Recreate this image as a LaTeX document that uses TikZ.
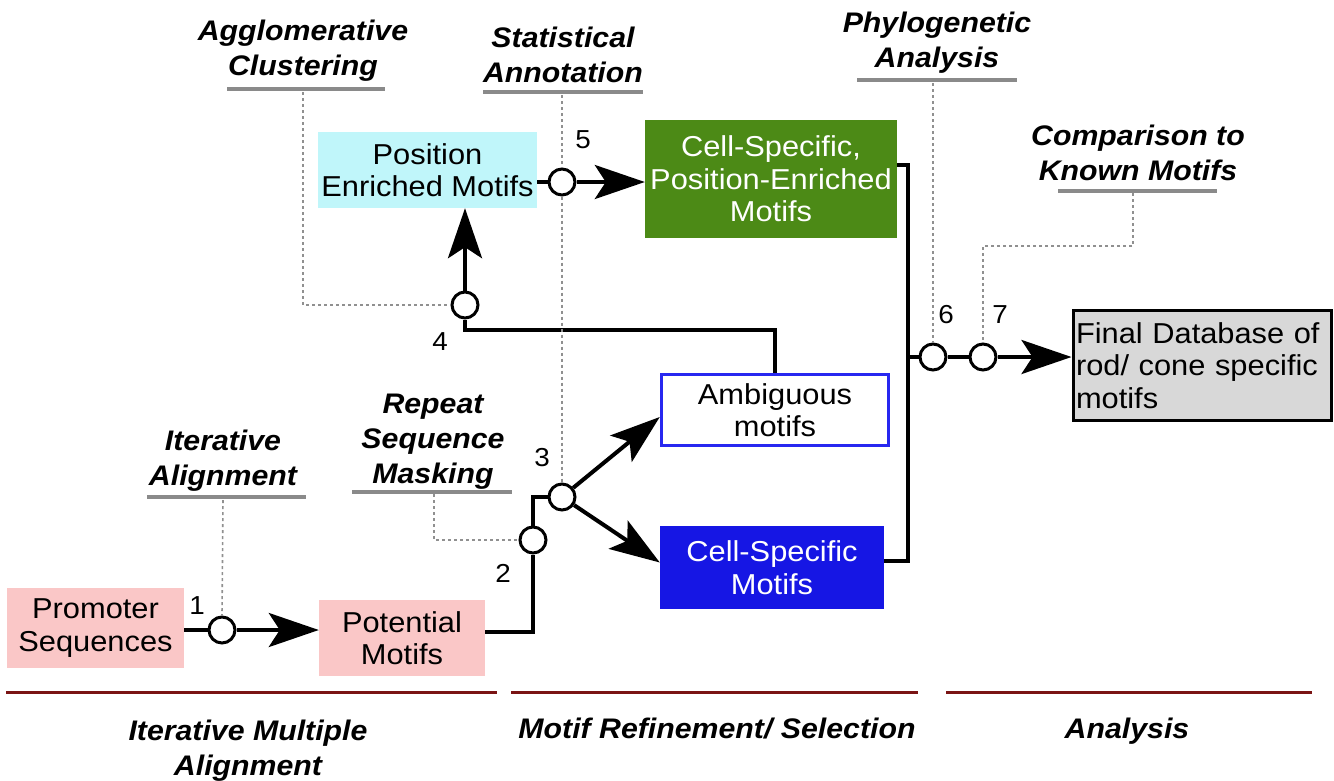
\documentclass[tikz,border=0pt]{standalone}
\usepackage{fontspec}
\setmainfont{Liberation Sans}[FakeStretch=1.07]
\usetikzlibrary{arrows.meta}
\definecolor{pinkbox}{HTML}{FAC7C7}
\definecolor{cyanbox}{HTML}{C0F6FA}
\definecolor{greenbox}{HTML}{4C8A16}
\definecolor{bluebox}{HTML}{1616E4}
\definecolor{blueline}{HTML}{2828F0}
\definecolor{greybox}{HTML}{D8D8D8}
\definecolor{maroonline}{HTML}{7A1414}
\definecolor{ulgrey}{HTML}{8A8A8A}
\definecolor{dotgrey}{HTML}{909090}
\begin{document}
\begin{tikzpicture}[x=1pt,y=-1pt,
 box/.style={inner sep=0pt, align=center, font=\fontsize{28.8}{32.5}\selectfont},
 circ/.style={circle, draw, line width=3pt, fill=white, minimum size=26pt, inner sep=0pt},
 conn/.style={line width=4pt},
 arr/.style={line width=4pt, -{Stealth[length=50pt,width=34pt,inset=11pt]}},
 dots/.style={draw=dotgrey, line width=1.6pt, dash pattern=on 3pt off 3pt},
 uline/.style={draw=ulgrey, line width=4pt},
 phase/.style={draw=maroonline, line width=3pt},
 lbl/.style={align=center, font=\bfseries\itshape\fontsize{28.3}{35}\selectfont},
 num/.style={font=\fontsize{26}{26}\selectfont}]
\useasboundingbox (0,0) rectangle (1334,780);

% boxes
\node[box, fill=pinkbox, minimum width=177pt, minimum height=80pt] (ps) at (95.5,628) {Promoter\\Sequences};
\node[box, fill=pinkbox, minimum width=166pt, minimum height=76pt] (pm) at (402,638) {Potential\\Motifs};
\node[box, fill=cyanbox, minimum width=219pt, minimum height=76pt] (pe) at (427.5,170) {Position\\Enriched Motifs};
\node[box, fill=greenbox, text=white, minimum width=252pt, minimum height=118pt] (cp) at (771,179) {Cell-Specific,\\Position-Enriched\\Motifs};
\node[box, draw=blueline, line width=3.5pt, fill=white, minimum width=227pt, minimum height=71pt] (am) at (775,410) {Ambiguous\\motifs};
\node[box, fill=bluebox, text=white, minimum width=224pt, minimum height=83pt] (cs) at (772,567.5) {Cell-Specific\\Motifs};
\node[box, draw, line width=3pt, fill=greybox, minimum width=258pt, minimum height=110pt, align=left, text width=252pt, inner xsep=3pt] (fd) at (1202,365.5) {Final Database of\\rod/ cone specific\\motifs};

% circles
\node[circ] (c1) at (222,630) {};
\node[circ] (c2) at (533,540) {};
\node[circ] (c3) at (562,497) {};
\node[circ] (c4) at (465,305) {};
\node[circ] (c5) at (562,182) {};
\node[circ] (c6) at (933,357) {};
\node[circ] (c7) at (983,357) {};

% helper coordinates
\coordinate (k2) at (533,632);
\coordinate (k4) at (465,330);
\coordinate (kt) at (908,165);
\coordinate (kb) at (908,561);
\coordinate (km) at (908,357);

% connectors
\draw[conn] (ps.east |- c1) -- (c1);
\draw[arr] (c1) -- (pm.west |- c1);
\draw[conn] (pm.east |- k2) -- (k2) -- (c2.south);
\draw[conn] (c2.north) |- (c3.west);
\draw[arr] (c3) -- ([yshift=-7pt]am.west);
\draw[arr] (c3) -- ([yshift=5pt]cs.west);
\draw[conn] (am.north) |- (k4) -- (c4.south);
\draw[arr] (c4.north) -- (c4 |- pe.south);
\draw[conn] (pe.east |- c5) -- (c5.west);
\draw[arr] (c5) -- (cp.west |- c5);
\draw[conn] (cp.east |- kt) -- (kt) -- (kb) -- (cs.east |- kb);
\draw[conn] (km) -- (c6.west);
\draw[conn] (c6.east) -- (c7.west);
\draw[arr] (c7) -- (fd.west |- c7);

% annotation underlines and dotted leaders
\coordinate (d1) at (223,500);
\coordinate (d2) at (434,494);
\coordinate (d2b) at (434,540);
\coordinate (d4) at (303,92);
\coordinate (d4b) at (303,305);
\coordinate (d5) at (562,95);
\coordinate (d6) at (933,83);
\coordinate (d7) at (1133,193);
\coordinate (d7b) at (1133,246);
\coordinate (d7c) at (983,246);

\draw[uline] (147,497) -- (306,497);
\draw[uline] (352,492) -- (512,492);
\draw[uline] (227,89) -- (385,89);
\draw[uline] (483,92) -- (643,92);
\draw[uline] (857,80) -- (1017,80);
\draw[uline] (1058,191) -- (1217,191);

\draw[dots] (d1) -- (c1.north);
\draw[dots] (d2) -- (d2b) -- (c2.west);
\draw[dots] (d4) -- (d4b) -- (c4.west);
\draw[dots] (d5) -- (c5.north);
\draw[dots] (c5.south) -- (c3.north);
\draw[dots] (d6) -- (c6.north);
\draw[dots] (d7) -- (d7b) -- (d7c) -- (c7.north);

% annotation labels
\node[lbl] (tA) at (303,51) {Agglomerative\\Clustering};
\node[lbl] (tS) at (563,55) {Statistical\\Annotation};
\node[lbl] (tP) at (937,43) {Phylogenetic\\Analysis};
\node[lbl] (tC) at (1138,153) {Comparison to\\Known Motifs};
\node[lbl] (tR) at (433,442) {Repeat\\Sequence\\Masking};
\node[lbl] (tI) at (223,461) {Iterative\\Alignment};

% step numbers
\node[num] (n1) at (197,606) {1};
\node[num] (n2) at (503,573) {2};
\node[num] (n3) at (542,458) {3};
\node[num] (n4) at (440,342) {4};
\node[num] (n5) at (583,140) {5};
\node[num] (n6) at (946,315) {6};
\node[num] (n7) at (1000,315) {7};

% phase lines and labels
\draw[phase] (6,692) -- (497,692);
\draw[phase] (511,692) -- (918,692);
\draw[phase] (946,692) -- (1312,692);
\node[lbl] (p1) at (248,751) {Iterative Multiple\\Alignment};
\node[lbl] (p2) at (717,729) {Motif Refinement/ Selection};
\node[lbl] (p3) at (1127,731) {Analysis};
\end{tikzpicture}
\end{document}
